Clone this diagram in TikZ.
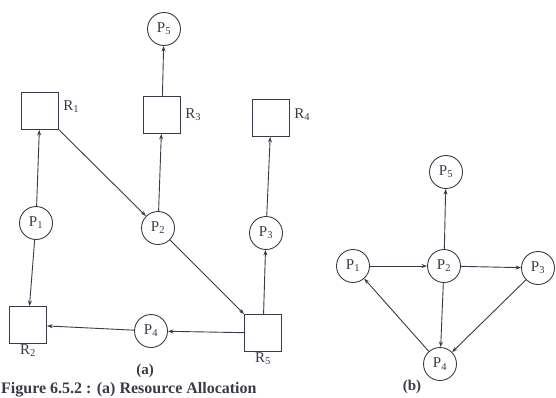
\documentclass[tikz,border=0pt]{standalone}
\usepackage{fontspec}
\setmainfont{Liberation Serif}
\usetikzlibrary{arrows.meta}
\definecolor{ink}{RGB}{58,58,72}

\begin{document}
\begin{tikzpicture}[
        x=1pt, y=-1pt,
        >={Stealth[length=5.5pt, width=4pt]},
        link/.style={->, draw=ink, line width=0.9pt},
        process/.style={circle, draw=ink, line width=0.9pt, minimum size=33pt, inner sep=0pt, text=ink, font=\fontsize{15}{15}\selectfont},
        resource/.style={rectangle, draw=ink, line width=0.9pt, minimum size=37pt, inner sep=0pt},
        res_label/.style={text=ink, font=\fontsize{15}{15}\selectfont},
        part_label/.style={text=ink, inner sep=0pt, font=\fontsize{15}{15}\selectfont\bfseries}
    ]
        \useasboundingbox (0,0) rectangle (556,397);

        % (a) resource allocation graph
        \node[resource, label={[res_label, yshift=4pt, label distance=1pt]right:R\textsubscript{1}}] (a_r1) at (40,111) {};
        \node[resource, label={[res_label, label distance=-3pt]below:R\textsubscript{2}}] (a_r2) at (28,325) {};
        \node[resource, label={[res_label, label distance=1pt]right:R\textsubscript{3}}] (a_r3) at (162,115) {};
        \node[resource, label={[res_label, yshift=3pt, label distance=1pt]right:R\textsubscript{4}}] (a_r4) at (271,118) {};
        \node[resource, label={[res_label, label distance=-3pt]below:R\textsubscript{5}}] (a_r5) at (263,333) {};

        \node[process] (a_p1) at (36,223) {P\textsubscript{1}};
        \node[process] (a_p2) at (158,228) {P\textsubscript{2}};
        \node[process] (a_p3) at (266,233) {P\textsubscript{3}};
        \node[process] (a_p4) at (151,331) {P\textsubscript{4}};
        \node[process] (a_p5) at (164,29) {P\textsubscript{5}};

        \draw[link] (a_p1) -- (a_r1);
        \draw[link] (a_p1) -- (a_r2);
        \draw[link] (a_r1) -- (a_p2);
        \draw[link] (a_p2) -- (a_r3);
        \draw[link] (a_r3) -- (a_p5);
        \draw[link] (a_p2) -- (a_r5);
        \draw[link] (a_r5) -- (a_p3);
        \draw[link] (a_p3) -- (a_r4);
        \draw[link] (a_r5) -- (a_p4);
        \draw[link] (a_p4) -- (a_r2);

        % (b) wait-for graph
        \node[process] (b_p1) at (353,266) {P\textsubscript{1}};
        \node[process] (b_p2) at (444,266) {P\textsubscript{2}};
        \node[process] (b_p3) at (538,268) {P\textsubscript{3}};
        \node[process] (b_p4) at (440,364) {P\textsubscript{4}};
        \node[process] (b_p5) at (446,172) {P\textsubscript{5}};

        \draw[link] (b_p1) -- (b_p2);
        \draw[link] (b_p2) -- (b_p3);
        \draw[link] (b_p2) -- (b_p5);
        \draw[link] (b_p2) -- (b_p4);
        \draw[link] (b_p3) -- (b_p4);
        \draw[link] (b_p4) -- (b_p1);

        % Labels
        \node[part_label] (lbl_a) at (145,371) {(a)};
        \node[part_label] (lbl_b) at (412,387) {(b)};
        \node[part_label, font=\fontsize{16}{16}\selectfont\bfseries, anchor=base west] (caption) at (1,393) {Figure 6.5.2 : (a) Resource Allocation};
\end{tikzpicture}
\end{document}
